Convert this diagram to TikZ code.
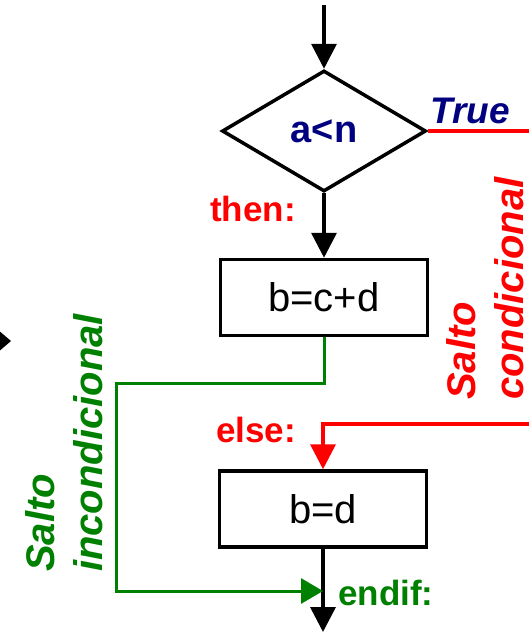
\documentclass[tikz,border=0pt]{standalone}
\usepackage{fontspec}
\setmainfont{Liberation Sans}
\usetikzlibrary{arrows.meta,shapes.geometric}
\definecolor{navy}{RGB}{0,0,128}
\definecolor{dkgreen}{RGB}{0,128,0}

\begin{document}
\begin{tikzpicture}[x=1pt,y=-1pt,
  flow/.style={line width=3.5pt,-{Triangle[length=25pt,width=25pt]}},
  stepbox/.style={draw,line width=3.5pt,minimum width=207pt,minimum height=76pt,inner sep=0pt,font=\fontsize{40}{48}\selectfont},
  tag/.style={inner sep=0pt,anchor=base west,font=\fontsize{35}{42}\selectfont\bfseries},
  jumptext/.style={inner sep=0pt,rotate=90,anchor=base west,align=left,font=\fontsize{40}{48}\selectfont\bfseries\itshape}]
  \useasboundingbox (0,0) rectangle (529,632);
  \coordinate (start) at (324,5);
  \coordinate (trueend) at (529,131);
  \coordinate (elsestart) at (529,424);
  \coordinate (exit) at (323,632);
  \coordinate (join) at (323,591);
  \node at (324,131)[shape=diamond,draw,line width=3.5pt,minimum width=204pt,minimum height=121pt,inner sep=0pt,text=navy,font=\fontsize{38}{46}\selectfont\bfseries](cond){\raisebox{-5pt}{a<n}};
  \node at (324,297.5)[stepbox](sum){b=c+d};
  \node at (323,509)[stepbox](assign){b=d};
  \draw[flow] (start) -- (cond.north);
  \draw[flow] (cond.south) -- (sum.north);
  \draw[flow] (assign.south) -- (exit);
  % saltos
  \draw[red,line width=3.5pt] (cond.east) -- (trueend);
  \draw[red,flow] (elsestart) -| (assign.north);
  \draw[dkgreen,line width=3pt,-{Triangle[length=22pt,width=25pt]}] (sum.south) |- (116,383) |- (join);
  % etiquetas
  \node at (430,123)[inner sep=0pt,anchor=base west,text=navy,font=\fontsize{37}{44}\selectfont\bfseries\itshape](truelbl){True};
  \node at (210,221)[tag,text=red](thenlbl){then:};
  \node at (216,442)[tag,text=red](elselbl){else:};
  \node at (338,605)[tag,text=dkgreen](endiflbl){endif:};
  \node at (523,400)[jumptext,text=red](condjump){Salto\\condicional};
  \node at (102,572)[jumptext,text=dkgreen](uncondjump){Salto\\incondicional};
  \fill (-3,329) -- (11,341) -- (-3,353) -- cycle;
\end{tikzpicture}
\end{document}
